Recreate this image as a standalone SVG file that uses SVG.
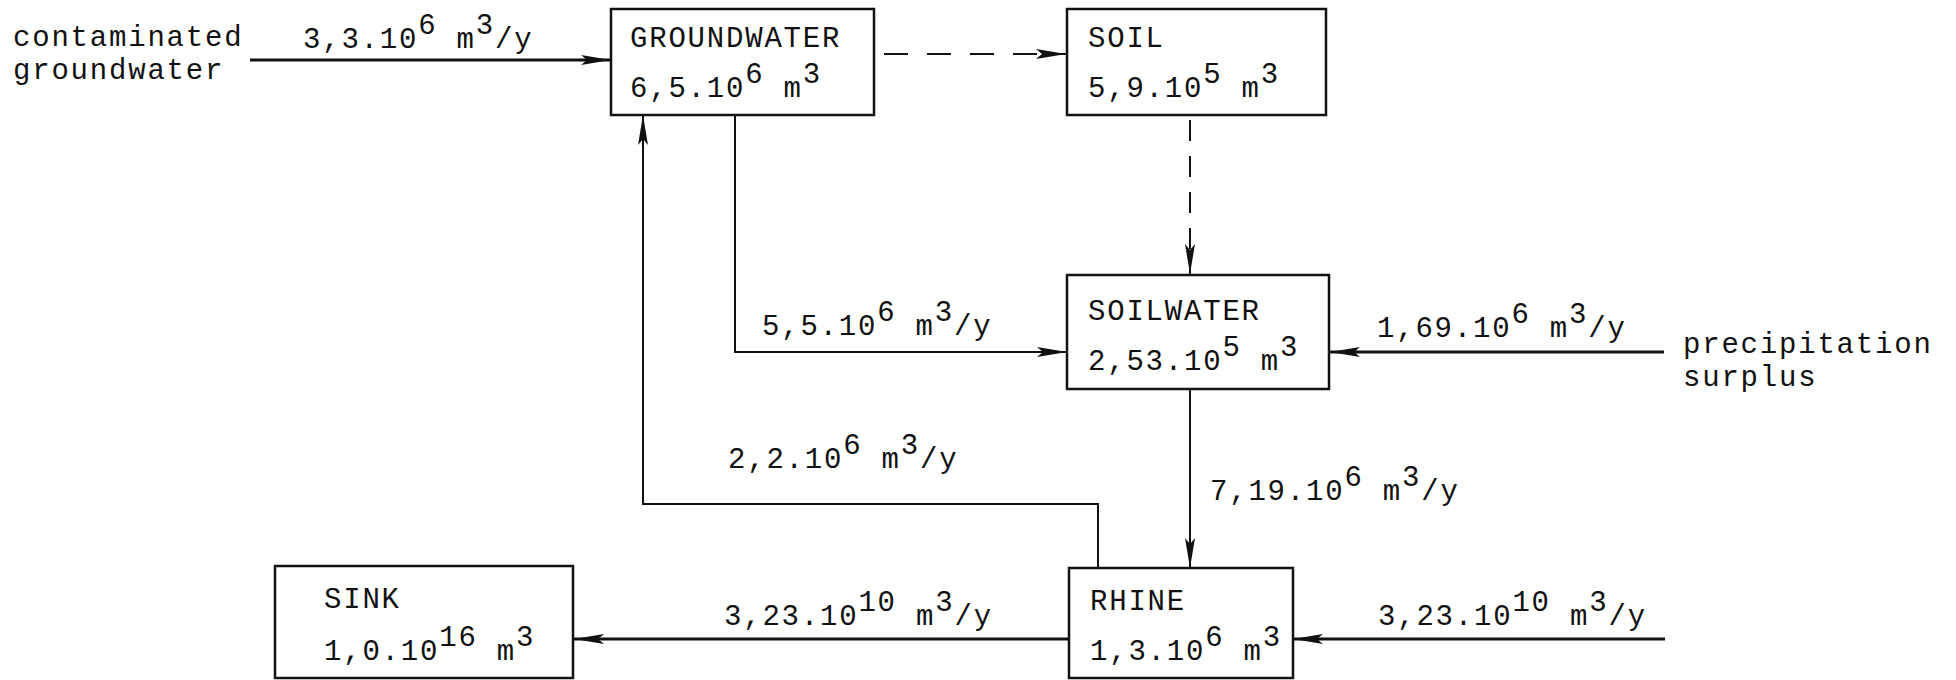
<svg xmlns="http://www.w3.org/2000/svg" width="1956" height="680" viewBox="0 0 1956 680">
<style>
  .box { fill: #ffffff; stroke: #111; stroke-width: 2.5; }
  .t { font-family: "Liberation Mono", "Courier New", monospace; font-size: 29px; letter-spacing: 1.8px; fill: #111; }
  .c { fill: none; stroke: #111; stroke-width: 2; }
  .thick { stroke-width: 3; }
  .dash { stroke-dasharray: 24 19; }
  .vdash { stroke-dasharray: 21 15; }
</style>
<defs>
  <marker id="arr" markerUnits="userSpaceOnUse" markerWidth="32" markerHeight="14" refX="30" refY="7" orient="auto">
    <path d="M0,2 L30,7 L0,12 L6,7 z" fill="#111"/>
  </marker>
</defs>
<rect width="1956" height="680" fill="#ffffff"/>

<g id="connectors">
  <line class="c thick" x1="250" y1="60" x2="611" y2="60" marker-end="url(#arr)"/>
  <line class="c dash" x1="884" y1="54" x2="1066" y2="54" marker-end="url(#arr)"/>
  <line class="c vdash" x1="1190" y1="120" x2="1190" y2="274" marker-end="url(#arr)"/>
  <polyline class="c" points="735,115 735,352 1067,352" marker-end="url(#arr)"/>
  <line class="c thick" x1="1664" y1="352" x2="1330" y2="352" marker-end="url(#arr)"/>
  <line class="c" x1="1190" y1="389" x2="1190" y2="568" marker-end="url(#arr)"/>
  <polyline class="c" points="1098,568 1098,504 643,504 643,115" marker-end="url(#arr)"/>
  <line class="c thick" x1="1069" y1="639" x2="574" y2="639" marker-end="url(#arr)"/>
  <line class="c thick" x1="1665" y1="639" x2="1293" y2="639" marker-end="url(#arr)"/>

  <text class="t" x="303" y="48">3,3.10<tspan dy="-14">6</tspan><tspan dy="14"> m</tspan><tspan dy="-14">3</tspan><tspan dy="14">/y</tspan></text>
  <text class="t" x="762" y="335">5,5.10<tspan dy="-14">6</tspan><tspan dy="14"> m</tspan><tspan dy="-14">3</tspan><tspan dy="14">/y</tspan></text>
  <text class="t" x="1377" y="337">1,69.10<tspan dy="-14">6</tspan><tspan dy="14"> m</tspan><tspan dy="-14">3</tspan><tspan dy="14">/y</tspan></text>
  <text class="t" x="1210" y="500">7,19.10<tspan dy="-14">6</tspan><tspan dy="14"> m</tspan><tspan dy="-14">3</tspan><tspan dy="14">/y</tspan></text>
  <text class="t" x="728" y="468">2,2.10<tspan dy="-14">6</tspan><tspan dy="14"> m</tspan><tspan dy="-14">3</tspan><tspan dy="14">/y</tspan></text>
  <text class="t" x="724" y="625">3,23.10<tspan dy="-14">10</tspan><tspan dy="14"> m</tspan><tspan dy="-14">3</tspan><tspan dy="14">/y</tspan></text>
  <text class="t" x="1378" y="625">3,23.10<tspan dy="-14">10</tspan><tspan dy="14"> m</tspan><tspan dy="-14">3</tspan><tspan dy="14">/y</tspan></text>
</g>

<g id="src-contaminated">
  <text class="t" x="13" y="46">contaminated</text>
  <text class="t" x="13" y="79">groundwater</text>
</g>

<g id="src-precipitation">
  <text class="t" x="1683" y="353">precipitation</text>
  <text class="t" x="1683" y="386">surplus</text>
</g>

<g id="groundwater">
  <rect class="box" x="611" y="9" width="263" height="106"/>
  <text class="t" x="630" y="47">GROUNDWATER</text>
  <text class="t" x="630" y="97">6,5.10<tspan dy="-14">6</tspan><tspan dy="14"> m</tspan><tspan dy="-14">3</tspan></text>
</g>

<g id="soil">
  <rect class="box" x="1067" y="9" width="259" height="106"/>
  <text class="t" x="1088" y="47">SOIL</text>
  <text class="t" x="1088" y="97">5,9.10<tspan dy="-14">5</tspan><tspan dy="14"> m</tspan><tspan dy="-14">3</tspan></text>
</g>

<g id="soilwater">
  <rect class="box" x="1067" y="275" width="262" height="114"/>
  <text class="t" x="1088" y="320">SOILWATER</text>
  <text class="t" x="1088" y="370">2,53.10<tspan dy="-14">5</tspan><tspan dy="14"> m</tspan><tspan dy="-14">3</tspan></text>
</g>

<g id="rhine">
  <rect class="box" x="1069" y="568" width="224" height="110"/>
  <text class="t" x="1090" y="610">RHINE</text>
  <text class="t" x="1090" y="660">1,3.10<tspan dy="-14">6</tspan><tspan dy="14"> m</tspan><tspan dy="-14">3</tspan></text>
</g>

<g id="sink">
  <rect class="box" x="275" y="566" width="298" height="112"/>
  <text class="t" x="324" y="608">SINK</text>
  <text class="t" x="324" y="660">1,0.10<tspan dy="-14">16</tspan><tspan dy="14"> m</tspan><tspan dy="-14">3</tspan></text>
</g>
</svg>
